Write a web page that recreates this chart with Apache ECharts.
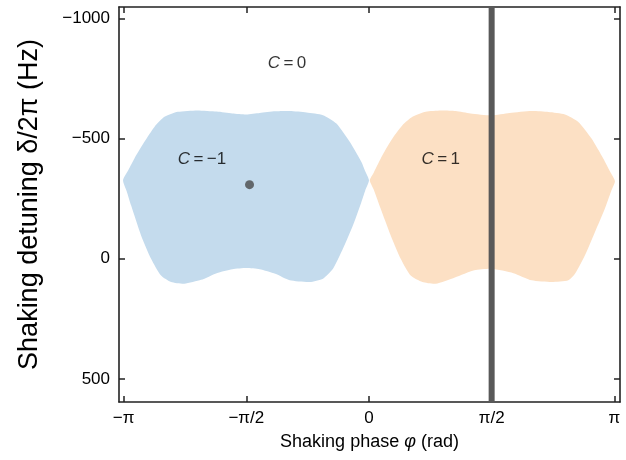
<!DOCTYPE html>
<html>
<head>
<meta charset="utf-8">
<script src="https://cdn.jsdelivr.net/npm/echarts@6/dist/echarts.min.js"></script>
<style>
html,body{margin:0;padding:0;background:#fff;}
#chart{width:626px;height:460px;}
</style>
</head>
<body>
<div id="chart"></div>
<script>
const PI = Math.PI;
// Axis ticks
const xTickValues = [-PI, -PI / 2, 0, PI / 2, PI];
const xTickLabels = ['\u2212\u03c0', '\u2212\u03c0/2', '0', '\u03c0/2', '\u03c0'];
const yTickValues = [-1000, -500, 0, 500];
const yTickLabels = ['\u22121000', '\u2212500', '0', '500'];

// C = -1 region outline (phase in rad, detuning in Hz)
const blueX = [-3.15, -3.08, -3.004, -2.876, -2.748, -2.62, -2.449, -2.2, -1.95, -1.75, -1.57, -1.40, -1.2, -1.015, -0.8, -0.589, -0.417, -0.247, -0.097, -0.05, 0.0,
               -0.05, -0.097, -0.205, -0.333, -0.461, -0.589, -0.759, -1.015, -1.2, -1.40, -1.57, -1.75, -1.95, -2.15, -2.364, -2.535, -2.663, -2.791, -2.919, -3.047, -3.10];
const blueY = [-326, -370, -417, -486, -548, -590, -611, -617, -612, -604, -600, -606, -613, -614, -608, -597, -562, -486, -402, -365, -326,
               -282, -236, -139, -42, 42, 83, 97, 90, 63, 44, 39, 44, 60, 88, 104, 97, 70, 0, -97, -222, -278];

// C = 1 region outline
const orangeX = [0.01, 0.06, 0.172, 0.30, 0.428, 0.556, 0.726, 0.92, 1.11, 1.30, 1.57, 1.80, 2.083, 2.30, 2.51, 2.68, 2.85, 3.0, 3.10, 3.15,
                 3.10, 3.02, 2.894, 2.766, 2.64, 2.553, 2.34, 2.083, 1.85, 1.57, 1.35, 1.10, 0.854, 0.684, 0.534, 0.406, 0.278, 0.15, 0.06];
const orangeY = [-326, -358, -430, -500, -555, -590, -611, -616, -614, -604, -596, -606, -614, -610, -600, -569, -500, -417, -355, -322,
                 -280, -208, -111, -14, 62, 90, 97, 90, 60, 42, 48, 78, 104, 97, 70, 0, -97, -208, -288];

// Marked point
const dotX = [-1.53];
const dotY = [-308];

// Region labels
const labelX = [-1.05, -2.14, 0.92];
const labelY = [-814, -414, -414];
const labelText = ['0', '\u22121', '1'];

// Vertical shaking-phase line
const lineX = [PI / 2];

const xMin = -PI - 0.06, xMax = PI + 0.073;
const yMin = -1047, yMax = 596;

const FONT = 'Liberation Sans, Arial, Helvetica, sans-serif';
const AX = '#222';

function polySeries(xs, ys, color) {
  const pts = xs.map((x, i) => [x, ys[i]]);
  return {
    type: 'custom',
    data: pts,
    encode: { x: 0, y: 1 },
    z: 1,
    silent: true,
    renderItem: function (params, api) {
      if (params.dataIndex !== 0) return null;
      const coords = pts.map(p => api.coord(p));
      return {
        type: 'polygon',
        shape: { points: coords, smooth: 0.2 },
        style: { fill: color }
      };
    }
  };
}

const chart = echarts.init(document.getElementById('chart'), null, { renderer: 'canvas' });

const xAxisBase = {
  type: 'value', min: xMin, max: xMax,
  axisLine: { show: true, onZero: false, lineStyle: { color: AX, width: 1.6 } },
  axisTick: { show: true, inside: true, length: 6, lineStyle: { color: AX, width: 1.5 }, customValues: xTickValues },
  splitLine: { show: false }
};
const yAxisBase = {
  type: 'value', min: yMin, max: yMax, inverse: true,
  axisLine: { show: true, onZero: false, lineStyle: { color: AX, width: 1.6 } },
  axisTick: { show: true, inside: true, length: 6, lineStyle: { color: AX, width: 1.5 }, customValues: yTickValues },
  splitLine: { show: false }
};

const option = {
  animation: false,
  backgroundColor: '#ffffff',
  grid: { left: 119, right: 6, top: 7, bottom: 58, containLabel: false },
  xAxis: [
    Object.assign({}, xAxisBase, {
      position: 'bottom',
      name: '{n|Shaking phase }{i|\u03c6}{n| (rad)}',
      nameLocation: 'middle',
      nameGap: 31,
      nameTextStyle: {
        rich: {
          n: { fontFamily: FONT, fontSize: 18, color: '#000' },
          i: { fontFamily: FONT, fontSize: 18, fontStyle: 'italic', color: '#000' }
        }
      },
      axisLabel: {
        show: true, margin: 8, fontFamily: FONT, fontSize: 17, color: '#000',
        customValues: xTickValues,
        formatter: function (v) {
          let best = 0;
          for (let i = 1; i < xTickValues.length; i++) {
            if (Math.abs(xTickValues[i] - v) < Math.abs(xTickValues[best] - v)) best = i;
          }
          return xTickLabels[best];
        }
      }
    }),
    Object.assign({}, xAxisBase, { position: 'top', axisLabel: { show: false } })
  ],
  yAxis: [
    Object.assign({}, yAxisBase, {
      position: 'left',
      name: 'Shaking detuning \u03b4/2\u03c0 (Hz)',
      nameLocation: 'middle',
      nameGap: 76,
      nameTextStyle: { fontFamily: FONT, fontSize: 27, color: '#000' },
      axisLabel: {
        show: true, margin: 9, fontFamily: FONT, fontSize: 17, color: '#000',
        customValues: yTickValues,
        formatter: function (v) {
          const i = yTickValues.indexOf(Math.round(v));
          return i >= 0 ? yTickLabels[i] : '';
        }
      }
    }),
    Object.assign({}, yAxisBase, { position: 'right', axisLabel: { show: false } })
  ],
  series: [
    polySeries(blueX, blueY, '#c4dbed'),
    polySeries(orangeX, orangeY, '#fce0c4'),
    {
      type: 'line',
      data: [[lineX[0], yMin], [lineX[0], yMax]],
      symbol: 'none',
      lineStyle: { color: '#595959', width: 6 },
      z: 3, silent: true
    },
    {
      type: 'scatter',
      data: dotX.map((x, i) => [x, dotY[i]]),
      symbolSize: 9,
      itemStyle: { color: '#4a4a4a' },
      z: 4, silent: true
    },
    {
      type: 'scatter',
      data: labelX.map((x, i) => [x, labelY[i], labelText[i]]),
      symbolSize: 0,
      z: 5, silent: true,
      label: {
        show: true, position: 'inside',
        formatter: function (p) { return '{i|C}{n|\u2009=\u2009' + p.data[2] + '}'; },
        rich: {
          i: { fontFamily: FONT, fontSize: 17, fontStyle: 'italic', color: '#000' },
          n: { fontFamily: FONT, fontSize: 17, color: '#000' }
        }
      }
    }
  ]
};
chart.setOption(option);
</script>
</body>
</html>
